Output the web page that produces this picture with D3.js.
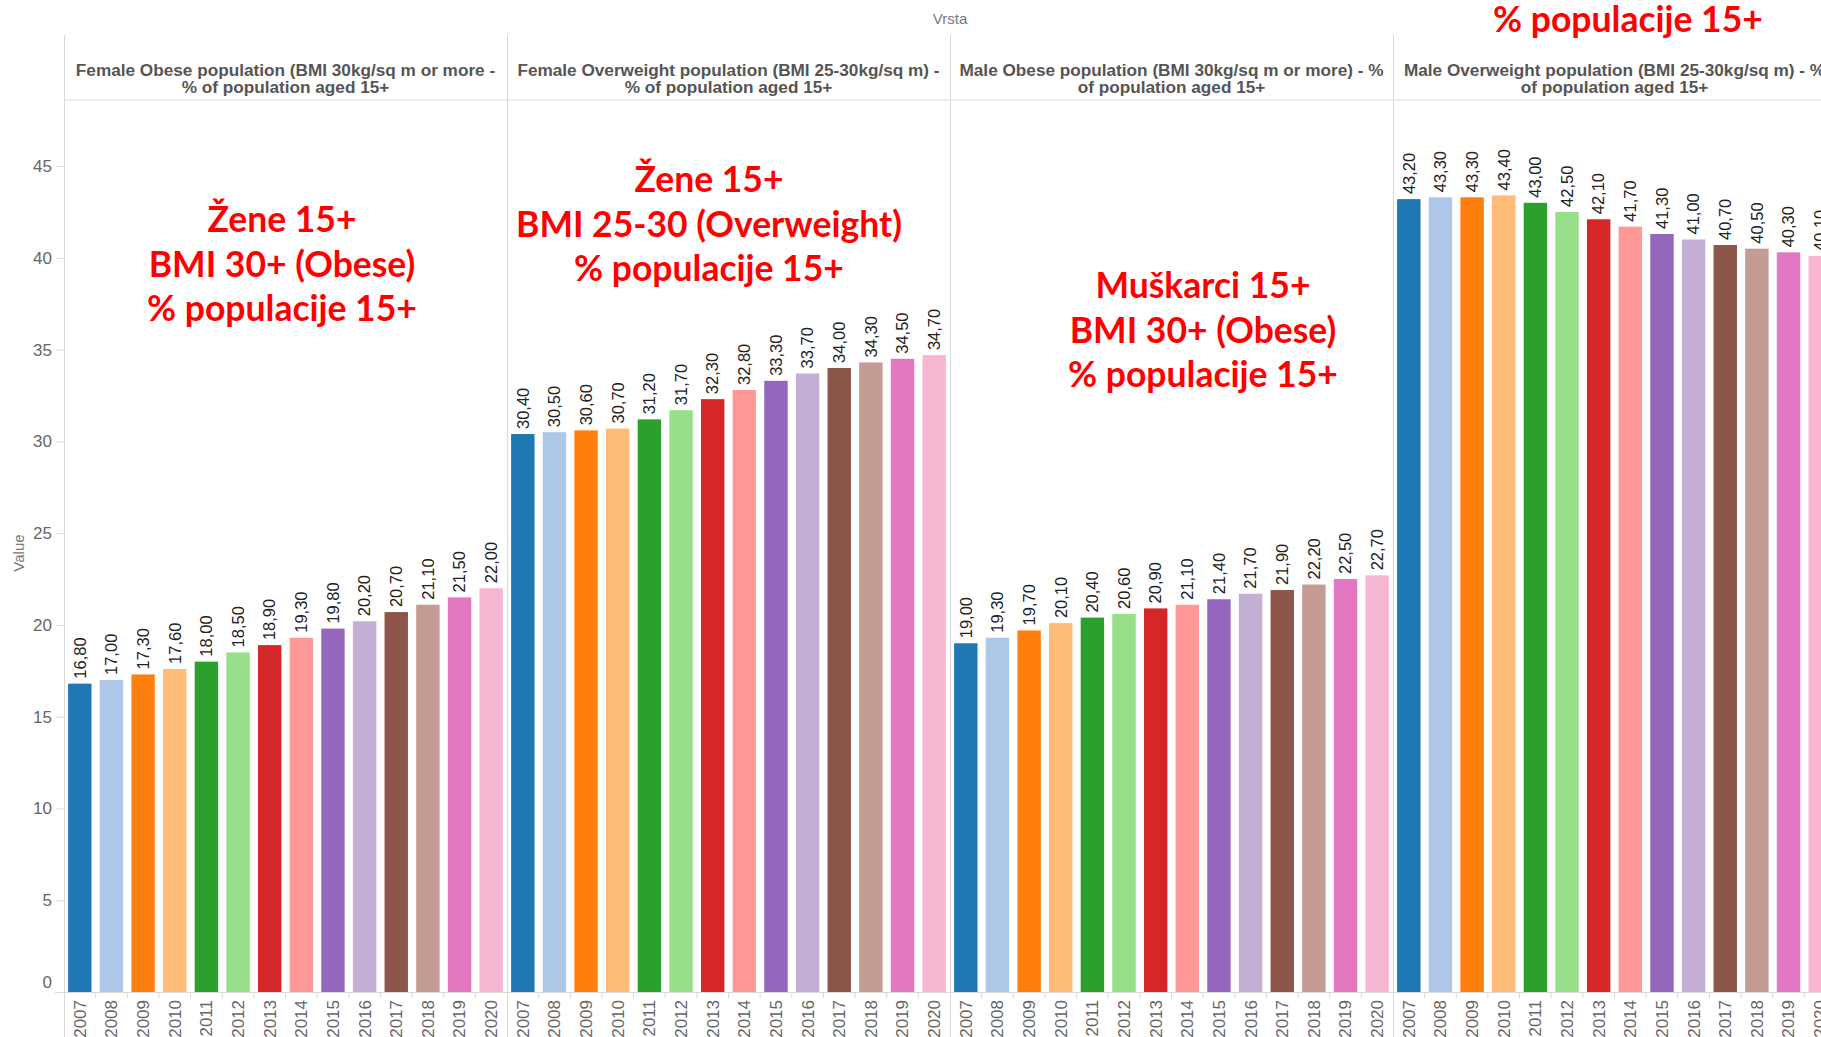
<!DOCTYPE html>
<html>
<head>
<meta charset="utf-8">
<script src="https://cdn.jsdelivr.net/npm/d3@7"></script>
<style>
  body { margin: 0; background: #fff; }
  svg { display: block; font-family: Arial, "Liberation Sans", sans-serif; }
</style>
</head>
<body>
<svg id="chart"></svg>
<script>
const W = 1821, H = 1037;

// data
const years = ['2007', '2008', '2009', '2010', '2011', '2012', '2013', '2014', '2015', '2016', '2017', '2018', '2019', '2020'];
const femaleObese = [16.8, 17.0, 17.3, 17.6, 18.0, 18.5, 18.9, 19.3, 19.8, 20.2, 20.7, 21.1, 21.5, 22.0];
const femaleOverweight = [30.4, 30.5, 30.6, 30.7, 31.2, 31.7, 32.3, 32.8, 33.3, 33.7, 34.0, 34.3, 34.5, 34.7];
const maleObese = [19.0, 19.3, 19.7, 20.1, 20.4, 20.6, 20.9, 21.1, 21.4, 21.7, 21.9, 22.2, 22.5, 22.7];
const maleOverweight = [43.2, 43.3, 43.3, 43.4, 43.0, 42.5, 42.1, 41.7, 41.3, 41.0, 40.7, 40.5, 40.3, 40.1];
const yTicks = [0, 5, 10, 15, 20, 25, 30, 35, 40, 45];
const headers = [
  ['Female Obese population (BMI 30kg/sq m or more -', '% of population aged 15+'],
  ['Female Overweight population (BMI 25-30kg/sq m) -', '% of population aged 15+'],
  ['Male Obese population (BMI 30kg/sq m or more) - %', 'of population aged 15+'],
  ['Male Overweight population (BMI 25-30kg/sq m) - %', 'of population aged 15+']
];
const notes = [
  ['Žene 15+', 'BMI 30+ (Obese)', '% populacije 15+'],
  ['Žene 15+', 'BMI 25-30 (Overweight)', '% populacije 15+'],
  ['Muškarci 15+', 'BMI 30+ (Obese)', '% populacije 15+'],
  ['% populacije 15+']
];
const series = [femaleObese, femaleOverweight, maleObese, maleOverweight];
const colors = ['#1f77b4', '#aec7e8', '#ff7f0e', '#ffbb78', '#2ca02c', '#98df8a', '#d62728',
                '#ff9896', '#9467bd', '#c5b0d5', '#8c564b', '#c49c94', '#e377c2', '#f7b6d2'];

// layout
const plotLeft = 64, panelW = 443, plotTop = 100, plotBottom = 992, lineTop = 35;
const notePos = [[282, 232], [709, 192], [1203, 298], [1628, 32]];
const lineCol = '#d9d9d9';

const svg = d3.select('#chart').attr('width', W).attr('height', H);
svg.append('rect').attr('width', W).attr('height', H).attr('fill', '#fff');

const y = d3.scaleLinear().domain([0, 48.6]).range([plotBottom, plotTop]);
const color = d3.scaleOrdinal().domain(years).range(colors);
const fmt = v => d3.format('.2f')(v).replace('.', ',');

// column field title
svg.append('text').attr('x', 950).attr('y', 19).attr('dy', '0.35em')
   .attr('text-anchor', 'middle').attr('fill', '#777').attr('font-size', 15).text('Vrsta');

// y axis
const yAxis = svg.append('g').attr('transform', `translate(${plotLeft},0)`)
   .call(d3.axisLeft(y).tickValues(yTicks).tickSize(8).tickPadding(4));
yAxis.select('.domain').remove();
yAxis.selectAll('line').attr('stroke', lineCol);
yAxis.selectAll('text').attr('fill', '#666').attr('font-size', 17)
     .attr('y', d => d === 0 ? -10 : 0);

svg.append('text').attr('transform', 'translate(19,553) rotate(-90)')
   .attr('text-anchor', 'middle').attr('dy', '0.35em')
   .attr('fill', '#777').attr('font-size', 15).text('Value');

// frame lines
svg.append('line').attr('x1', plotLeft).attr('x2', W).attr('y1', plotTop).attr('y2', plotTop).attr('stroke', lineCol);
svg.append('line').attr('x1', plotLeft - 9).attr('x2', W).attr('y1', plotBottom + 0.5).attr('y2', plotBottom + 0.5).attr('stroke', lineCol);

series.forEach((vals, p) => {
  const x0 = plotLeft + p * panelW;
  const x = d3.scaleBand().domain(years).range([x0, x0 + panelW])
              .paddingInner(0.26).paddingOuter(0.13);
  const g = svg.append('g');
  const data = years.map((yr, i) => ({yr, v: vals[i]}));

  g.selectAll('rect').data(data).join('rect')
   .attr('x', d => x(d.yr)).attr('width', x.bandwidth())
   .attr('y', d => y(d.v)).attr('height', d => y(0) - y(d.v))
   .attr('fill', d => color(d.yr));

  g.selectAll('text.val').data(data).join('text').attr('class', 'val')
   .attr('transform', d => `translate(${x(d.yr) + x.bandwidth() / 2},${y(d.v) - 5}) rotate(-90)`)
   .attr('dy', '0.35em').attr('fill', '#222').attr('font-size', 16.5)
   .text(d => fmt(d.v));

  // year labels
  const xa = g.append('g').attr('transform', `translate(0,${plotBottom})`)
     .call(d3.axisBottom(x).tickSize(0));
  xa.select('.domain').remove();
  xa.selectAll('text').attr('transform', 'rotate(-90)').attr('text-anchor', 'end')
    .attr('x', -8).attr('y', 0).attr('dy', '0.35em')
    .attr('fill', '#666').attr('font-size', 17);

  // separators between years
  g.selectAll('line.sep').data(years.slice(1)).join('line').attr('class', 'sep')
   .attr('x1', d => x(d) - x.step() * x.paddingInner() / 2)
   .attr('x2', d => x(d) - x.step() * x.paddingInner() / 2)
   .attr('y1', plotBottom).attr('y2', plotBottom + 6).attr('stroke', lineCol);

  // panel divider
  svg.append('line').attr('x1', x0 + 0.5).attr('x2', x0 + 0.5)
     .attr('y1', lineTop).attr('y2', H).attr('stroke', lineCol);

  // header
  const hx = x0 + panelW / 2;
  svg.append('g').selectAll('text').data(headers[p]).join('text')
     .attr('x', hx).attr('y', (d, i) => 69.5 + i * 17.5).attr('dy', '0.35em')
     .attr('text-anchor', 'middle').attr('fill', '#555')
     .attr('font-size', 17.2).attr('font-weight', 'bold').text(d => d);

  // red annotations
  const n = notes[p];
  svg.append('g').selectAll('text').data(n).join('text')
     .attr('x', notePos[p][0]).attr('y', (d, i) => notePos[p][1] + i * 44.5)
     .attr('text-anchor', 'middle').attr('fill', '#ff0000')
     .attr('font-family', 'Lato, "Open Sans", sans-serif')
     .attr('font-weight', 'bold').attr('font-size', 35.5).text(d => d);
});
</script>
</body>
</html>
